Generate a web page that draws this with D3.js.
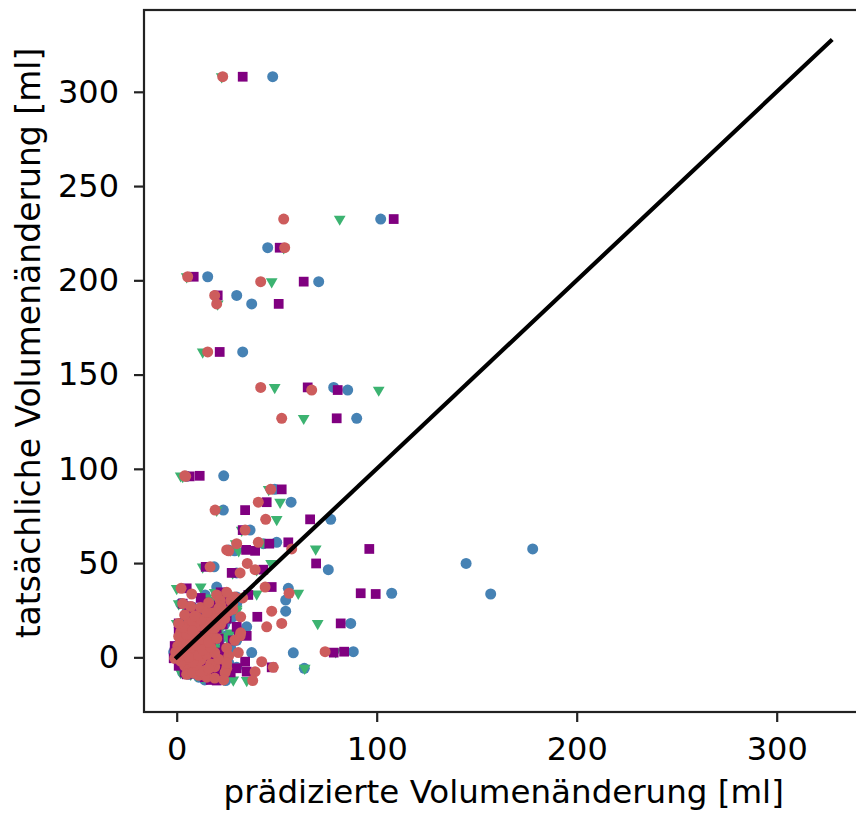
<!DOCTYPE html>
<html>
<head>
<meta charset="utf-8">
<script src="https://cdnjs.cloudflare.com/ajax/libs/d3/7.8.5/d3.min.js"></script>
<style>
  body { margin: 0; background: #fff; }
  text { font-family: "DejaVu Sans", sans-serif; fill: #000; }
</style>
</head>
<body>
<div id="chart"></div>
<script>
// tatsächliche Werte (eine Zeile = ein Fall, vier Modelle)
const actual = [
  308, 232.5, 217.3, 201.9, 199.3, 192, 187.5, 162, 143.2, 141.8,
  126.8, 96.3, 96, 89.1, 82.3, 78.1, 73.2, 67.5, 61, 60.3,
  57.5, 57, 56.5, 49.8, 48, 46.5, 44.8, 36.6, 37.3, 34,
  33.6, 33.1, 30.4, 28.6, 24.5, 21.5, 18, 16.2, 11.4, 3,
  2.5, 2.4, -2.3, -5.3, -5.8, -7.6, -8, -12, -12.3,
  0, 0.5, 1, 1.5, 2, -1, -2, -3, -4, -6,
  -8.5, -9.5, -10.5, -7, -5, -3.5, -1.5, 3.5, 4.5, 5.5,
  6.5, 7.5, 8.5, 9.5, 10.5, 11.5, 12.5, 13.5, 14.5, 15.5,
  16.5, 17.5, 18.5, 19.5, 20.5, 21.5, 22.5, 23.5, 24.5, 25.5,
  26.5, 27.5, 28.5, 30, 31.5, 0.8, 5, 9, 13, -0.5,
  2.8, 6, -4.5, -6.5, 19, 15,
  -9, -8, -7.5, -6, -4, -2.5, -1, 0, 1, 1.5,
  2.5, 3, 4, 5.5, 7, 8, 10, 11, 12, 14,
  16, 17, 18, 20, 21, 22, 24, 26, 27, 29,
  32, 34.5, -11, -3
];

const predBlue = [
  48, 102, 45.5, 15.5, 71, 30, 37.5, 33, 78.5, 85.5,
  90, 23.5, 5, 49, 57.2, 23.3, 77, 36.7, 50, 43.3,
  178, 26, 29, 144.7, 18.7, 75.8, 30, 55.8, 20, 107.5,
  157, 14.2, 54.5, 30, 54.5, 28, 87, 35, 24.7, 88.3,
  37.5, 58.3, 13.3, 30, 63.8, 12, 13.5, 14, 24.5,
  1, 2, 3, 0.5, 4, 2, 5, 7, 9, 10,
  8, 15, 11, 17, 20, 19, 16, 5, 8, 6,
  12, 3, 10, 14, 7, 18, 11, 2, 16, 21,
  9, 24, 13, 4, 26, 15, 6, 20, 12, 29,
  8, 18, 2, 24, 14, 25, 27, 30, 33, 0,
  -1.5, 0, 3, 5, 9, 5,
  6, 3, 22, 24, 14, 11, 23, 8, 12, 18,
  20, 1, 14, 19, 9, 16, 22, 3, 8, 11,
  6, 18, 2, 12, 19, 8, 17, 22, 5, 15,
  30, 20, 20, 26
];

const predPurple = [
  33, 108.5, 51.5, 8.5, 63.5, 20.5, 51, 21.5, 65.5, 80.5,
  80, 11.5, 6.5, 52.5, 45, 34.2, 66.7, 33, 55.8, 46.3,
  96.3, 34.7, 39.2, 69.7, 14.5, 43.3, 27.5, 5, 47.5, 92,
  99.5, 35.8, 25, 15, 18, 40.3, 82, 30, 35, 83.7,
  78.5, 20, 34.2, 47.5, 30, 35, 27, 17, 20,
  0.5, 1, 0.5, 2, 3, 1, 3, 6, 8, 12,
  10, 12, 14, 18, 14, 22, 13, 4, 7, 10,
  9, 2, 11, 15, 6, 16, 13, 1, 19, 20,
  8, 23, 12, 18, 25, 17, 5, 22, 10, 27,
  7, 20, 3, 26, 12, 22, 24, 28, 31, -1.5,
  -1, -1, 1, 4, 7, 3,
  5, 4, 20, 18, 16, 10, 21, 6, 15, 17,
  21, 0, 13, 17, 8, 14, 21, 2, 7, 12,
  5, 16, 1, 13, 22, 9, 15, 24, 6, 14,
  28, 22, 22, 24
];

const predGreen = [
  22.5, 81.5, 53.5, 5, 47.5, 19.5, 20.5, 13, 49, 101,
  63.5, 2, 3, 46, 51.7, 20, 50, 32.5, 43, 29.5,
  69.5, 27, 31, 47.2, 13, 40, 28, 0, 12, 60.8,
  40, 25, 18, 22, 30, 20, 70.5, 15, 25, 79.5,
  20, 10, 22, 25, 64, 20, 18, 28.3, 35,
  0.8, 1.5, 2, 1, 2.5, 3, 4, 5, 6, 8,
  12, 10, 13, 16, 18, 21, 15, 6, 9, 7,
  11, 4, 8, 12, 5, 15, 10, 3, 17, 22,
  10, 21, 14, 5, 24, 13, 8, 19, 11, 30,
  9, 17, 1, 23, 15, 12, 20, 26, 27, -1,
  0, 1, 2, 3, 6, 2,
  7, 2, 19, 21, 13, 9, 20, 7, 13, 16,
  22, 2, 12, 18, 7, 15, 19, 4, 6, 10,
  4, 17, 0, 11, 20, 7, 16, 21, 4, 16,
  27, 19, 18, 23
];

const predRed = [
  23, 53.5, 54, 5.5, 42, 19, 20, 15.5, 42, 67.5,
  52.5, 4, 4.5, 47, 40.8, 19.2, 44.5, 34.2, 40.8, 30,
  57.5, 25, 26, 35.3, 16.7, 39.2, 31.7, 2.2, 44.2, 56.2,
  7.5, 20, 21.7, 28, 47.5, 32, 52.5, 45, 31.7, 74.2,
  30.8, 8, 42.5, 48.3, 25, 39.2, 24.2, 23.5, 38,
  0.2, 0.5, 1.5, 2.5, 3, 1.5, 2, 4, 6, 7,
  9, 11, 15, 14, 19, 17, 12, 5, 7, 9,
  10, 3, 12, 13, 6, 17, 9, 2, 15, 19,
  11, 22, 6, 16, 24, 10, 4, 18, 26, 28,
  12, 22, 3, 27, 33, 26, 25, 29, 32, -1,
  -0.5, 0.5, 4, 6, 8, 4,
  5, 8, 12, 16, 10, 8, 21, 6, 11, 15,
  19, 0.5, 13, 17, 5, 16, 20, 1, 5, 8,
  3, 14, 1, 12, 20, 9, 15, 21, 7, 16,
  29, 25, 19, 25
];

const xTicks = [0, 100, 200, 300];
const yTicks = [0, 50, 100, 150, 200, 250, 300];
const diagonal = [0, 327];

const xLabel = "prädizierte Volumenänderung [ml]";
const yLabel = "tatsächliche Volumenänderung [ml]";

const width = 856;
const height = 814;
const margin = { top: 10, left: 144, bottom: 102, right: -7.4 };

const x = d3.scaleLinear()
    .domain([-16.35, 343.35])
    .range([margin.left, width - margin.right]);

const y = d3.scaleLinear()
    .domain([-29.0, 343.4])
    .range([height - margin.bottom, margin.top]);

const svg = d3.select("#chart")
    .append("svg")
    .attr("width", width)
    .attr("height", height)
    .style("display", "block");

svg.append("rect")
    .attr("width", width)
    .attr("height", height)
    .attr("fill", "#fff");

const series = [
    { values: predBlue, color: "#4682b4", shape: d3.symbolCircle, size: 95, rot: 0 },
    { values: predGreen, color: "#3cb371", shape: d3.symbolTriangle, size: 60, rot: 180 },
    { values: predPurple, color: "#800080", shape: d3.symbolSquare, size: 95, rot: 0 },
    { values: predRed, color: "#cd5c5c", shape: d3.symbolCircle, size: 95, rot: 0 }
];

series.forEach(s => {
    const sym = d3.symbol().type(s.shape).size(s.size);
    svg.append("g")
        .selectAll("path")
        .data(actual.map((a, i) => [s.values[i], a]))
        .enter()
        .append("path")
        .attr("d", sym)
        .attr("transform", d => `translate(${x(d[0])},${y(d[1])}) rotate(${s.rot})`)
        .attr("fill", s.color);
});

// Winkelhalbierende
svg.append("line")
    .attr("x1", x(diagonal[0]))
    .attr("y1", y(diagonal[0]))
    .attr("x2", x(diagonal[1]))
    .attr("y2", y(diagonal[1]))
    .attr("stroke", "#000")
    .attr("stroke-width", 4.2)
    .attr("stroke-linecap", "square");

// Rahmen
svg.append("rect")
    .attr("x", margin.left)
    .attr("y", margin.top)
    .attr("width", x.range()[1] - margin.left)
    .attr("height", y.range()[0] - margin.top)
    .attr("fill", "none")
    .attr("stroke", "#222")
    .attr("stroke-width", 2.2);

const xAxis = svg.append("g")
    .attr("transform", `translate(0,${y.range()[0]})`)
    .call(d3.axisBottom(x).tickValues(xTicks).tickSize(10).tickPadding(15).tickSizeOuter(0));

const yAxis = svg.append("g")
    .attr("transform", `translate(${margin.left},0)`)
    .call(d3.axisLeft(y).tickValues(yTicks).tickSize(10).tickPadding(15).tickSizeOuter(0));

[xAxis, yAxis].forEach(g => {
    g.select(".domain").remove();
    g.selectAll(".tick line").attr("stroke", "#222").attr("stroke-width", 2.2);
    g.selectAll(".tick text")
        .style("font-family", "'DejaVu Sans', sans-serif")
        .style("font-size", "32px")
        .attr("fill", "#000");
});

svg.append("text")
    .attr("x", (margin.left + x.range()[1]) / 2)
    .attr("y", 803)
    .attr("text-anchor", "middle")
    .style("font-size", "32.5px")
    .text(xLabel);

svg.append("text")
    .attr("transform", "translate(40,343) rotate(-90)")
    .attr("text-anchor", "middle")
    .style("font-size", "33px")
    .text(yLabel);
</script>
</body>
</html>
